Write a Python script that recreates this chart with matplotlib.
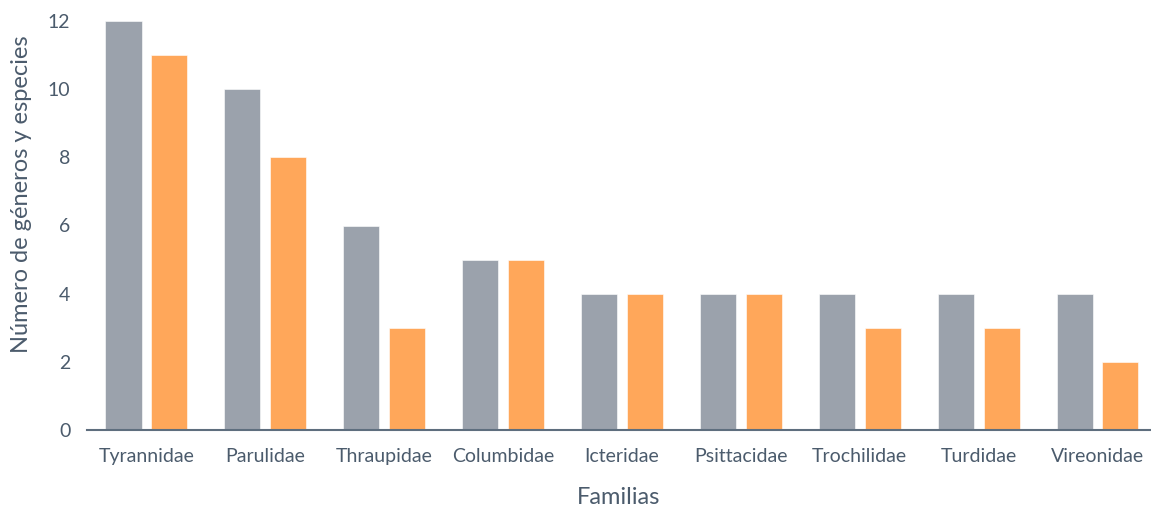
import matplotlib.pyplot as plt
import numpy as np

familias = ["Tyrannidae", "Parulidae", "Thraupidae", "Columbidae", "Icteridae",
            "Psittacidae", "Trochilidae", "Turdidae", "Vireonidae"]
generos = [12, 10, 6, 5, 4, 4, 4, 4, 4]
especies = [11, 8, 3, 5, 4, 4, 3, 3, 2]

text_color = "#4B5B6C"
gray = "#9BA2AC"
orange = "#FFA75A"

plt.rcParams['font.family'] = ['Lato', 'DejaVu Sans']

fig = plt.figure(figsize=(11.51, 5.08), dpi=100)
ax = fig.add_axes([87 / 1151, 78 / 508, 1 - 87 / 1151, (430 - 21) / 508])

x = np.arange(len(familias))
w = 0.303
off = 0.193
ax.bar(x - off, generos, width=w, color=gray, edgecolor="white", linewidth=0.4)
ax.bar(x + off, especies, width=w, color=orange, edgecolor="white", linewidth=0.4)

ax.set_xlim(-0.5, 8.45)
ax.set_ylim(0, 12)
ax.set_yticks(np.arange(0, 13, 2))
ax.set_xticks(x)
ax.set_xticklabels(familias)

for s in ["top", "right", "left"]:
    ax.spines[s].set_visible(False)
ax.spines["bottom"].set_color("#5E6E7E")
ax.spines["bottom"].set_linewidth(1.5)

ax.tick_params(axis="both", length=0, colors=text_color, labelsize=14)
ax.tick_params(axis="y", pad=12)
ax.tick_params(axis="x", pad=13)

ax.set_xlabel("Familias", color=text_color, fontsize=17, labelpad=16)
fig.text(22 / 1151, 1 - 194 / 508, "Número de géneros y especies", color=text_color,
         fontsize=17, rotation=90, ha="center", va="center")

fig.savefig("out.png", dpi=100)
